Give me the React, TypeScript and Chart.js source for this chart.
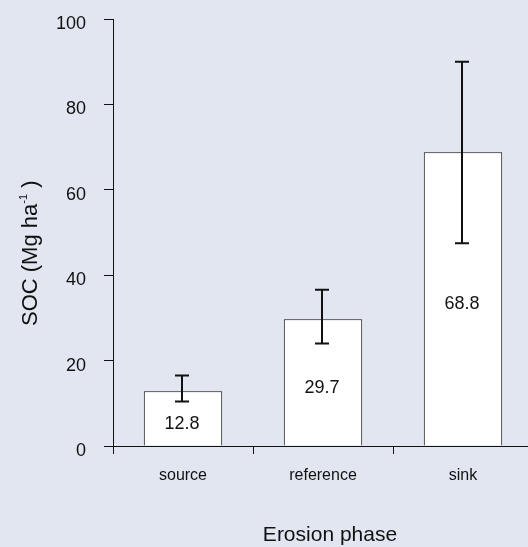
import React, { useEffect, useRef } from "react";
import { Chart, registerables } from "chart.js";

Chart.register(...registerables);

const categories = ["source", "reference", "sink"];
const socMeans = [12.8, 29.7, 68.8];
const errUpper = [16.5, 36.6, 90.0];
const errLower = [10.4, 24.0, 47.5];
const valueLabels = ["12.8", "29.7", "68.8"];
const yTicks = [0, 20, 40, 60, 80, 100];

const FONT = "'Liberation Sans', Arial, Helvetica, sans-serif";
const BG = "#e1e6f1";
const INK = "#111111";

const overlayPlugin = {
  id: "overlay",
  afterDatasetsDraw(chart: any) {
    const ctx = chart.ctx;
    const meta = chart.getDatasetMeta(0);
    const y = chart.scales.y;
    ctx.save();
    // error bars
    ctx.strokeStyle = INK;
    ctx.lineWidth = 2;
    meta.data.forEach((bar: any, i: number) => {
      const x = Math.round(bar.x) - 1;
      const yt = y.getPixelForValue(errUpper[i]);
      const yb = y.getPixelForValue(errLower[i]);
      ctx.beginPath();
      ctx.moveTo(x, yt);
      ctx.lineTo(x, yb);
      ctx.moveTo(x - 7, yt);
      ctx.lineTo(x + 7, yt);
      ctx.moveTo(x - 7, yb);
      ctx.lineTo(x + 7, yb);
      ctx.stroke();
    });
    // value labels
    ctx.fillStyle = INK;
    ctx.font = `18px ${FONT}`;
    ctx.textAlign = "center";
    ctx.textBaseline = "middle";
    meta.data.forEach((bar: any, i: number) => {
      const yc = y.getPixelForValue(socMeans[i] / 2) + 5;
      ctx.fillText(valueLabels[i], bar.x - 1, yc);
    });
    ctx.restore();
  },
  afterDraw(chart: any) {
    const ctx = chart.ctx;
    const area = chart.chartArea;
    ctx.save();
    ctx.fillStyle = INK;
    // x title
    ctx.font = `21px ${FONT}`;
    ctx.textAlign = "center";
    ctx.textBaseline = "alphabetic";
    ctx.fillText("Erosion phase", (area.left + area.right) / 2 + 7, 541);
    // y title with superscript
    ctx.translate(37, 326);
    ctx.rotate(-Math.PI / 2);
    ctx.textAlign = "left";
    ctx.font = `22px ${FONT}`;
    const main = "SOC (Mg ha";
    ctx.fillText(main, 0, 0);
    let off = ctx.measureText(main).width;
    ctx.font = `11px ${FONT}`;
    const sup = "-1";
    ctx.fillText(sup, off, -10);
    off += ctx.measureText(sup).width;
    ctx.font = `22px ${FONT}`;
    ctx.fillText(" )", off, 0);
    ctx.restore();
  },
};

export default function App() {
  const ref = useRef<HTMLCanvasElement | null>(null);
  useEffect(() => {
    if (!ref.current) return;
    const chart = new Chart(ref.current, {
      type: "bar",
      data: {
        labels: categories,
        datasets: [
          {
            data: socMeans,
            backgroundColor: "#ffffff",
            borderColor: INK,
            borderWidth: 1,
            barPercentage: 0.56,
            categoryPercentage: 1,
          },
        ],
      },
      options: {
        responsive: false,
        animation: false,
        devicePixelRatio: 1,
        layout: { padding: { left: 0, top: 19, right: 7, bottom: 0 } },
        plugins: {
          legend: { display: false },
          tooltip: { enabled: false },
          title: { display: false },
        },
        scales: {
          x: {
            type: "category",
            offset: true,
            grid: {
              display: true,
              offset: true,
              drawOnChartArea: false,
              drawTicks: true,
              tickLength: 8,
              color: INK,
              lineWidth: 1,
            },
            border: { display: true, color: INK, width: 1 },
            ticks: {
              color: INK,
              font: { family: FONT, size: 16 },
              padding: 12,
              maxRotation: 0,
            },
            afterFit: (s: any) => {
              s.height = 101;
              s.paddingLeft = 0;
              s.paddingRight = 0;
            },
          },
          y: {
            min: 0,
            max: 100,
            afterBuildTicks: (s: any) => {
              s.ticks = yTicks.map((v) => ({ value: v }));
            },
            grid: {
              display: true,
              drawOnChartArea: false,
              drawTicks: true,
              tickLength: 9,
              color: INK,
              lineWidth: 1,
            },
            border: { display: true, color: INK, width: 1 },
            ticks: {
              color: INK,
              font: { family: FONT, size: 18 },
              padding: 18,
              labelOffset: 5,
            },
            afterFit: (s: any) => {
              s.width = 113;
              s.paddingTop = 0;
              s.paddingBottom = 0;
            },
          },
        },
      },
      plugins: [overlayPlugin],
    });
    return () => chart.destroy();
  }, []);
  return (
    <div
      style={{
        position: "absolute",
        left: 0,
        top: 0,
        width: 528,
        height: 547,
        overflow: "hidden",
        background: BG,
      }}
    >
      <canvas
        ref={ref}
        width={540}
        height={547}
        style={{ width: 540, height: 547, display: "block" }}
      />
    </div>
  );
}
